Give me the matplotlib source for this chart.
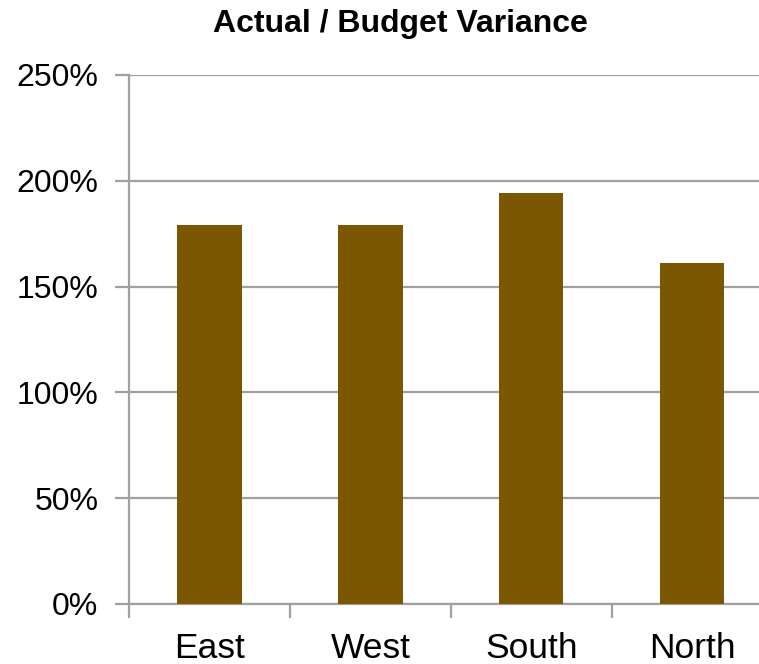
import matplotlib
matplotlib.use("Agg")
import matplotlib.pyplot as plt
from matplotlib.ticker import FuncFormatter, MultipleLocator

plt.rcParams['font.family'] = ['Liberation Sans', 'DejaVu Sans']

categories = ["East", "West", "South", "North"]
variance_pct = [179, 179, 194, 161]

bar_color = "#7A5700"
grid_color = "#A0A0A0"

fig = plt.figure(figsize=(7.59, 6.64), dpi=100)
ax = fig.add_axes([0.170, 0.0904, 0.848, 0.7967])

x = list(range(len(categories)))
ax.bar(x, variance_pct, width=0.4, color=bar_color, zorder=3)

ax.set_xlim(-0.5, len(categories) - 0.5)
ax.set_ylim(0, 250)
ax.yaxis.set_major_locator(MultipleLocator(50))
ax.yaxis.set_major_formatter(FuncFormatter(lambda v, _: f"{v:.0f}%"))
ax.yaxis.grid(True, color=grid_color, linewidth=1.6, zorder=0)

# category boundaries carry the tick marks, names sit at the bar centres
ax.set_xticks([i - 0.5 for i in x] + [len(categories) - 0.5])
ax.set_xticklabels([])
ax.set_xticks(x, minor=True)
ax.set_xticklabels(categories, minor=True, fontsize=25.5)
ax.tick_params(axis="x", which="minor", length=0, pad=20)
ax.tick_params(axis="x", which="major", length=10, width=1.6, color=grid_color)
ax.tick_params(axis="y", length=10, width=1.6, color=grid_color, labelsize=23, pad=12)

for side in ("top", "right"):
    ax.spines[side].set_visible(False)
for side in ("left", "bottom"):
    ax.spines[side].set_color(grid_color)
    ax.spines[side].set_linewidth(1.6)

fig.text(0.528, 0.964, "Actual / Budget Variance", ha="center", va="center",
         fontsize=23, fontweight="bold")

fig.savefig("out.png", dpi=100)
